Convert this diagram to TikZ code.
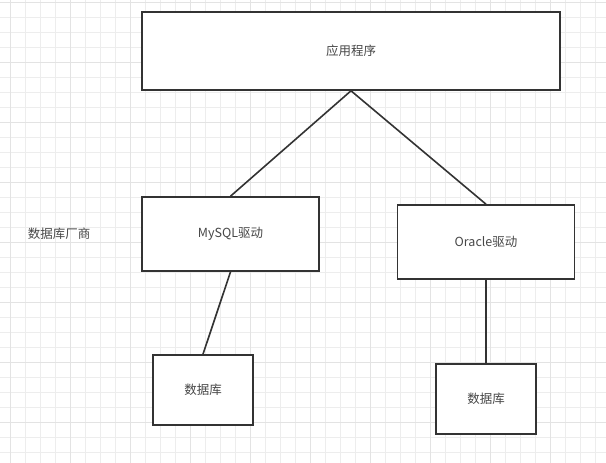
\documentclass[tikz,border=0pt]{standalone}
\usepackage{fontspec}
\setmainfont{Noto Sans CJK SC}
\usetikzlibrary{positioning}

\begin{document}
\begin{tikzpicture}[
  x=1pt, y=-1pt,
  every node/.style={font=\fontsize{12.5}{15}\selectfont, text=black!72},
  box/.style n args={2}{
    rectangle, draw=black!80, line width=1.6pt, fill=white,
    minimum width=#1, minimum height=#2, inner sep=0pt
  },
  link/.style={draw=black!80, line width=1.6pt},
  minor/.style={draw=black!7, line width=0.8pt},
  major/.style={draw=black!11, line width=0.8pt},
]
\useasboundingbox (0,0) rectangle (606,463);

%% background grid
\foreach \gx in {10,25,...,605} {\draw[minor] (\gx,0) -- (\gx,463);}
\foreach \gy in {2,17,...,462} {\draw[minor] (0,\gy) -- (606,\gy);}
\foreach \gx in {10,70,...,605} {\draw[major] (\gx,0) -- (\gx,463);}
\foreach \gy in {2,62,...,462} {\draw[major] (0,\gy) -- (606,\gy);}

%% application
\node[box={418pt}{78pt}] (app) at (351,51) {应用程序};

%% drivers
\node[box={177pt}{74pt}] (mysql) at (230.5,234) {MySQL驱动};
\node[box={177pt}{74pt}] (oracle) at (486,242) {Oracle驱动};
\node (vendor) at (59,234) {数据库厂商};

%% databases
\node[box={100pt}{70pt}] (dbone) at (203,390) {数据库};
\node[box={100pt}{70pt}] (dbtwo) at (486,399) {数据库};

%% links
\draw[link] (app.south) -- (mysql.north);
\draw[link] (app.south) -- (oracle.north);
\draw[link] (mysql.south) -- (dbone.north);
\draw[link] (oracle.south) -- (dbtwo.north);

\end{tikzpicture}
\end{document}
